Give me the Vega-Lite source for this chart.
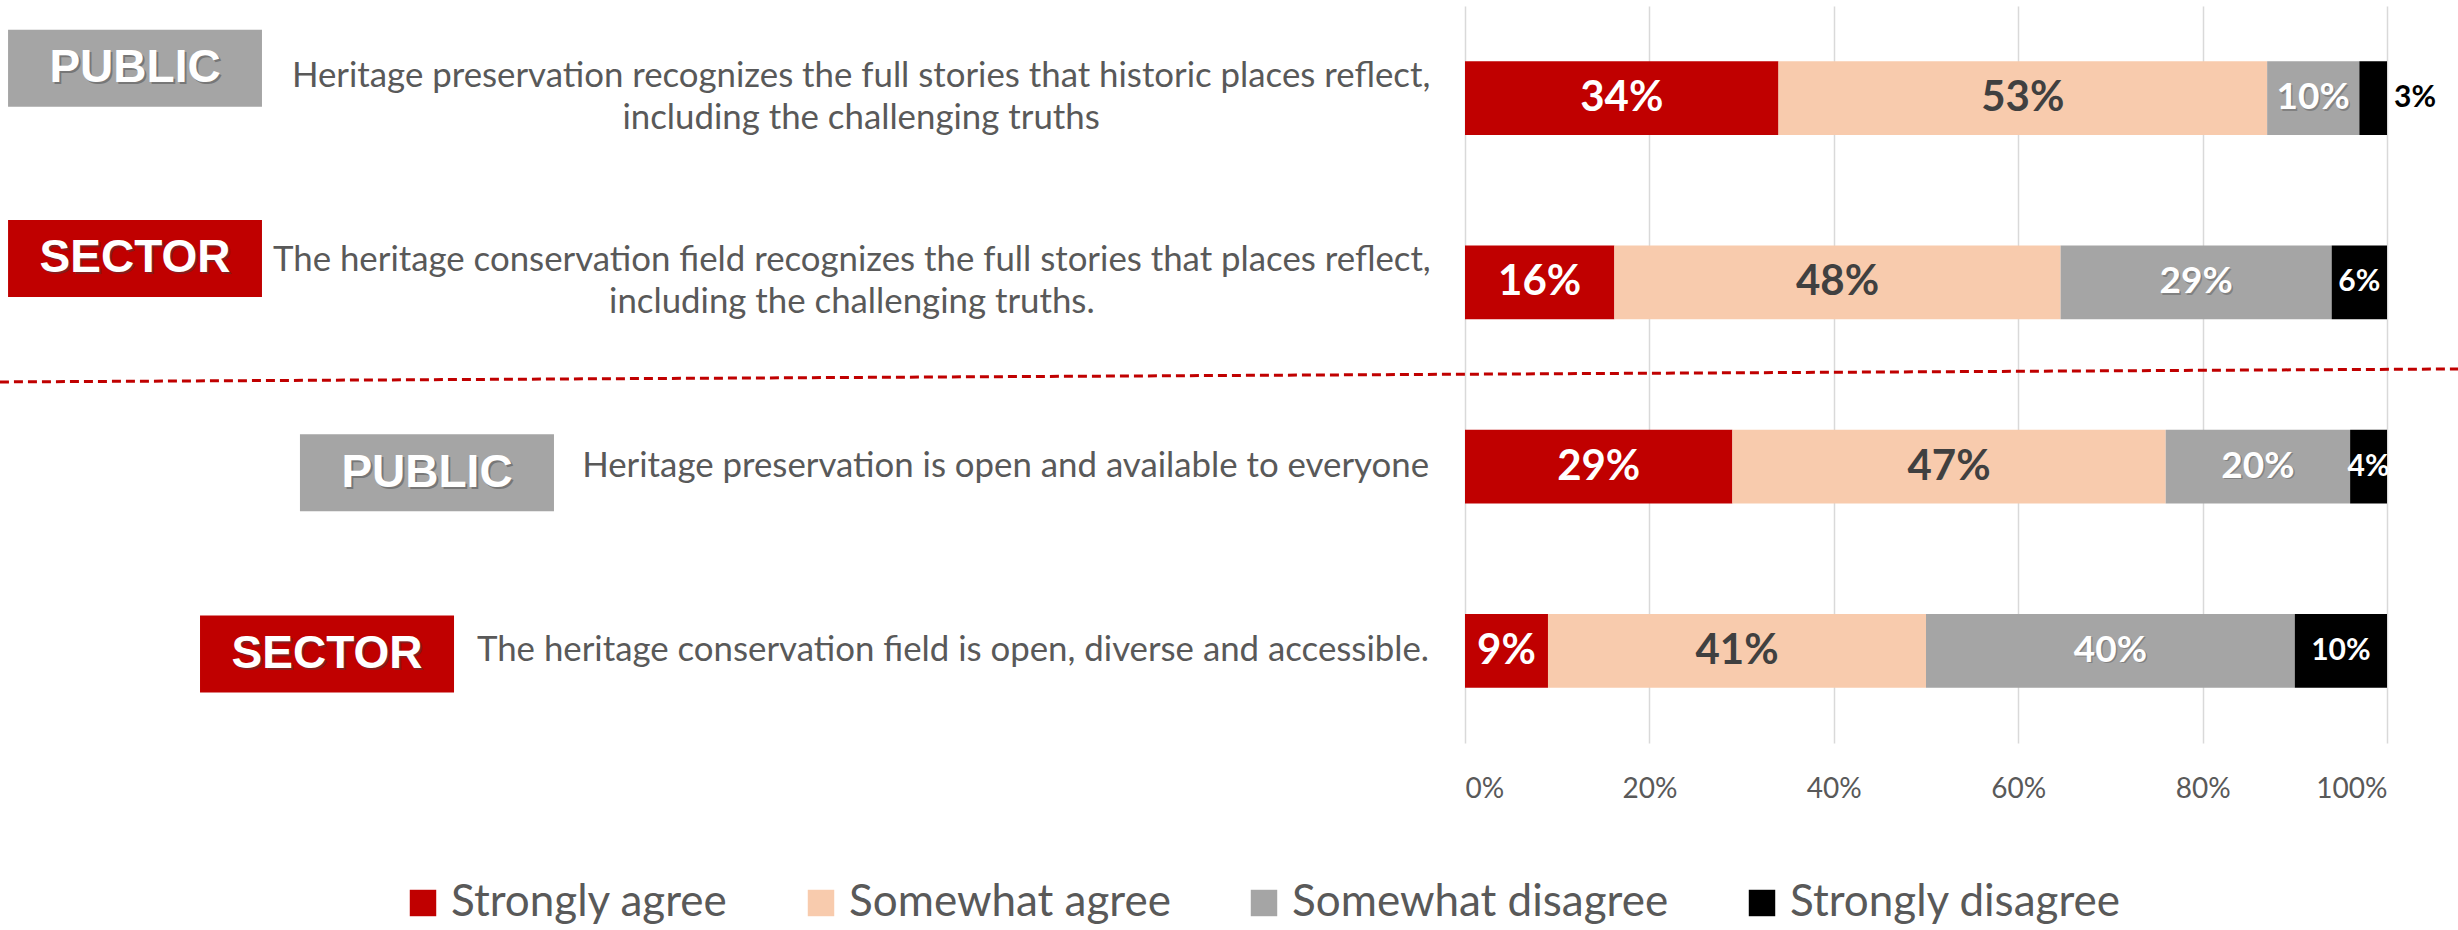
{
  "$schema": "https://vega.github.io/schema/vega-lite/v6.json",
  "width": 922,
  "height": 737,
  "autosize": {"type": "none"},
  "padding": {"left": 1465, "top": 6, "right": 71, "bottom": 187},
  "background": "white",
  "config": {"font": "Lato", "view": {"stroke": null}},
  "datasets": {
    "responses": [
      {"q": "q1", "response": "Strongly agree", "k": 1, "share": 0.34},
      {"q": "q1", "response": "Somewhat agree", "k": 2, "share": 0.53},
      {"q": "q1", "response": "Somewhat disagree", "k": 3, "share": 0.10},
      {"q": "q1", "response": "Strongly disagree", "k": 4, "share": 0.03},
      {"q": "q2", "response": "Strongly agree", "k": 1, "share": 0.162},
      {"q": "q2", "response": "Somewhat agree", "k": 2, "share": 0.484},
      {"q": "q2", "response": "Somewhat disagree", "k": 3, "share": 0.294},
      {"q": "q2", "response": "Strongly disagree", "k": 4, "share": 0.06},
      {"q": "q3", "response": "Strongly agree", "k": 1, "share": 0.29},
      {"q": "q3", "response": "Somewhat agree", "k": 2, "share": 0.47},
      {"q": "q3", "response": "Somewhat disagree", "k": 3, "share": 0.20},
      {"q": "q3", "response": "Strongly disagree", "k": 4, "share": 0.04},
      {"q": "q4", "response": "Strongly agree", "k": 1, "share": 0.09},
      {"q": "q4", "response": "Somewhat agree", "k": 2, "share": 0.41},
      {"q": "q4", "response": "Somewhat disagree", "k": 3, "share": 0.40},
      {"q": "q4", "response": "Strongly disagree", "k": 4, "share": 0.10}
    ],
    "questions": [
      {"q": "q1", "group": "PUBLIC", "text": "Heritage preservation recognizes the full stories that historic places reflect,\nincluding the challenging truths"},
      {"q": "q2", "group": "SECTOR", "text": "The heritage conservation field recognizes the full stories that places reflect,\nincluding the challenging truths."},
      {"q": "q3", "group": "PUBLIC", "text": "Heritage preservation is open and available to everyone"},
      {"q": "q4", "group": "SECTOR", "text": "The heritage conservation field is open, diverse and accessible."}
    ]
  },
  "layer": [
    {
      "data": {"name": "responses"},
      "mark": {"type": "bar"},
      "encoding": {
        "x": {"field": "share", "type": "quantitative", "stack": "zero",
          "scale": {"domain": [0, 1], "nice": false},
          "axis": {"values": [0, 0.2, 0.4, 0.6, 0.8, 1], "format": ".0%", "title": null, "domain": false, "ticks": false, "tickSize": 0, "labelPadding": 32, "labelFontSize": 28, "labelColor": "#595959", "labelFont": "Lato", "grid": true, "gridColor": "#D9D9D9", "gridWidth": 1.5}},
        "y": {"field": "q", "type": "nominal", "axis": null,
          "scale": {"domain": ["q1", "q2", "q3", "q4"], "paddingInner": 0.6, "paddingOuter": 0.3}},
        "order": {"field": "k"},
        "color": {"field": "response", "type": "nominal",
          "scale": {"domain": ["Strongly agree", "Somewhat agree", "Somewhat disagree", "Strongly disagree"], "range": ["#C00000", "#F8CBAD", "#A5A5A5", "#000000"]},
          "legend": {"orient": "none", "legendX": -1064, "legendY": 875, "direction": "horizontal", "title": null, "symbolType": "square", "symbolSize": 700, "symbolStrokeWidth": 0, "symbolOpacity": 1, "labelFont": "Lato", "labelFontSize": 44, "labelColor": "#595959", "labelLimit": 0, "columnPadding": 71, "labelOffset": 6, "padding": 0}}
      }
    },
    {
      "data": {"name": "responses"},
      "transform": [{"filter": "!(datum.q === 'q1' && datum.k === 4)"}],
      "mark": {"type": "text", "fontWeight": "bold", "align": "center", "baseline": "middle", "dx": 1.5, "dy": 1.5, "color": "#404040"},
      "encoding": {
        "x": {"field": "share", "type": "quantitative", "stack": "zero", "bandPosition": 0.5, "scale": {"domain": [0, 1], "nice": false}},
        "y": {"field": "q", "type": "nominal", "axis": null, "scale": {"domain": ["q1", "q2", "q3", "q4"]}},
        "order": {"field": "k"},
        "detail": {"field": "response"},
        "text": {"field": "share", "type": "quantitative", "format": ".0%"},
        "opacity": {"condition": {"test": "datum.k === 3", "value": 0.35}, "value": 0},
        "size": {"condition": [{"test": "datum.k === 4", "value": 30}, {"test": "datum.k === 3", "value": 37}], "value": 42}
      }
    },
    {
      "data": {"name": "responses"},
      "transform": [{"filter": "!(datum.q === 'q1' && datum.k === 4)"}],
      "mark": {"type": "text", "fontWeight": "bold", "align": "center", "baseline": "middle"},
      "encoding": {
        "x": {"field": "share", "type": "quantitative", "stack": "zero", "bandPosition": 0.5, "scale": {"domain": [0, 1], "nice": false}},
        "y": {"field": "q", "type": "nominal", "axis": null, "scale": {"domain": ["q1", "q2", "q3", "q4"]}},
        "order": {"field": "k"},
        "detail": {"field": "response"},
        "text": {"field": "share", "type": "quantitative", "format": ".0%"},
        "color": {"condition": {"test": "datum.k === 2", "value": "#404040"}, "value": "#FFFFFF"},
        "size": {"condition": [{"test": "datum.k === 4", "value": 30}, {"test": "datum.k === 3", "value": 37}], "value": 42}
      }
    },
    {
      "data": {"name": "responses"},
      "transform": [{"filter": "datum.q === 'q1' && datum.k === 4"}],
      "mark": {"type": "text", "fontWeight": "bold", "align": "left", "baseline": "middle", "dx": 7, "fontSize": 30, "color": "#000000"},
      "encoding": {
        "x": {"datum": 1, "type": "quantitative", "scale": {"domain": [0, 1], "nice": false}},
        "y": {"field": "q", "type": "nominal", "axis": null, "scale": {"domain": ["q1", "q2", "q3", "q4"]}},
        "text": {"field": "share", "type": "quantitative", "format": ".0%"}
      }
    },
    {
      "data": {"name": "questions"},
      "transform": [{"filter": "datum.q === 'q3'"}],
      "mark": {"type": "rule", "color": "#C00000", "strokeWidth": 3, "strokeDash": [9, 5]},
      "encoding": {
        "x": {"datum": -1.589, "type": "quantitative", "scale": {"domain": [0, 1], "nice": false}},
        "x2": {"datum": 1.077},
        "y": {"field": "q", "type": "nominal", "bandPosition": -0.649, "axis": null, "scale": {"domain": ["q1", "q2", "q3", "q4"]}},
        "y2": {"field": "q", "bandPosition": -0.825}
      }
    },
    {
      "data": {"name": "questions"},
      "transform": [{"filter": "datum.q === 'q1'"}],
      "mark": {"type": "text", "align": "center", "baseline": "middle", "lineBreak": "\n", "lineHeight": 42, "fontSize": 34.8, "color": "#595959", "yOffset": -21},
      "encoding": {
        "x": {"datum": -0.655, "type": "quantitative", "scale": {"domain": [0, 1], "nice": false}},
        "y": {"field": "q", "type": "nominal", "axis": null, "scale": {"domain": ["q1", "q2", "q3", "q4"]}},
        "text": {"field": "text"}
      }
    },
    {
      "data": {"name": "questions"},
      "transform": [{"filter": "datum.q === 'q2'"}],
      "mark": {"type": "text", "align": "center", "baseline": "middle", "lineBreak": "\n", "lineHeight": 42, "fontSize": 34.8, "color": "#595959", "yOffset": -21},
      "encoding": {
        "x": {"datum": -0.665, "type": "quantitative", "scale": {"domain": [0, 1], "nice": false}},
        "y": {"field": "q", "type": "nominal", "axis": null, "scale": {"domain": ["q1", "q2", "q3", "q4"]}},
        "text": {"field": "text"}
      }
    },
    {
      "data": {"name": "questions"},
      "transform": [{"filter": "datum.q === 'q3' || datum.q === 'q4'"}],
      "mark": {"type": "text", "align": "right", "baseline": "middle", "fontSize": 34.8, "color": "#595959"},
      "encoding": {
        "x": {"datum": -0.039, "type": "quantitative", "scale": {"domain": [0, 1], "nice": false}},
        "y": {"field": "q", "type": "nominal", "axis": null, "scale": {"domain": ["q1", "q2", "q3", "q4"]}},
        "text": {"field": "text"}
      }
    },
    {
      "data": {"name": "questions"},
      "transform": [{"filter": "datum.q === 'q1'"}],
      "encoding": {
        "y": {"field": "q", "type": "nominal", "axis": null, "scale": {"domain": ["q1", "q2", "q3", "q4"]}}
      },
      "layer": [
        {"mark": {"type": "bar", "height": 77, "yOffset": -30, "color": "#A5A5A5"},
          "encoding": {"x": {"datum": -1.5802, "type": "quantitative", "scale": {"domain": [0, 1], "nice": false}}, "x2": {"datum": -1.3048}}},
        {"mark": {"type": "text", "font": "Liberation Sans", "fontWeight": "bold", "fontSize": 46, "color": "#404040", "opacity": 0.45, "align": "center", "baseline": "middle", "yOffset": -28, "dx": 2},
          "encoding": {"x": {"datum": -1.4425, "type": "quantitative", "scale": {"domain": [0, 1], "nice": false}}, "text": {"field": "group"}}},
        {"mark": {"type": "text", "font": "Liberation Sans", "fontWeight": "bold", "fontSize": 46, "color": "#FFFFFF", "align": "center", "baseline": "middle", "yOffset": -30},
          "encoding": {"x": {"datum": -1.4425, "type": "quantitative", "scale": {"domain": [0, 1], "nice": false}}, "text": {"field": "group"}}}
      ]
    },
    {
      "data": {"name": "questions"},
      "transform": [{"filter": "datum.q === 'q2'"}],
      "encoding": {
        "y": {"field": "q", "type": "nominal", "axis": null, "scale": {"domain": ["q1", "q2", "q3", "q4"]}}
      },
      "layer": [
        {"mark": {"type": "bar", "height": 77, "yOffset": -24, "color": "#C00000"},
          "encoding": {"x": {"datum": -1.5802, "type": "quantitative", "scale": {"domain": [0, 1], "nice": false}}, "x2": {"datum": -1.3048}}},
        {"mark": {"type": "text", "font": "Liberation Sans", "fontWeight": "bold", "fontSize": 46, "color": "#404040", "opacity": 0.45, "align": "center", "baseline": "middle", "yOffset": -22, "dx": 2},
          "encoding": {"x": {"datum": -1.4425, "type": "quantitative", "scale": {"domain": [0, 1], "nice": false}}, "text": {"field": "group"}}},
        {"mark": {"type": "text", "font": "Liberation Sans", "fontWeight": "bold", "fontSize": 46, "color": "#FFFFFF", "align": "center", "baseline": "middle", "yOffset": -24},
          "encoding": {"x": {"datum": -1.4425, "type": "quantitative", "scale": {"domain": [0, 1], "nice": false}}, "text": {"field": "group"}}}
      ]
    },
    {
      "data": {"name": "questions"},
      "transform": [{"filter": "datum.q === 'q3'"}],
      "encoding": {
        "y": {"field": "q", "type": "nominal", "axis": null, "scale": {"domain": ["q1", "q2", "q3", "q4"]}}
      },
      "layer": [
        {"mark": {"type": "bar", "height": 77, "yOffset": 6, "color": "#A5A5A5"},
          "encoding": {"x": {"datum": -1.2636, "type": "quantitative", "scale": {"domain": [0, 1], "nice": false}}, "x2": {"datum": -0.9881}}},
        {"mark": {"type": "text", "font": "Liberation Sans", "fontWeight": "bold", "fontSize": 46, "color": "#404040", "opacity": 0.45, "align": "center", "baseline": "middle", "yOffset": 8, "dx": 2},
          "encoding": {"x": {"datum": -1.1258, "type": "quantitative", "scale": {"domain": [0, 1], "nice": false}}, "text": {"field": "group"}}},
        {"mark": {"type": "text", "font": "Liberation Sans", "fontWeight": "bold", "fontSize": 46, "color": "#FFFFFF", "align": "center", "baseline": "middle", "yOffset": 6},
          "encoding": {"x": {"datum": -1.1258, "type": "quantitative", "scale": {"domain": [0, 1], "nice": false}}, "text": {"field": "group"}}}
      ]
    },
    {
      "data": {"name": "questions"},
      "transform": [{"filter": "datum.q === 'q4'"}],
      "encoding": {
        "y": {"field": "q", "type": "nominal", "axis": null, "scale": {"domain": ["q1", "q2", "q3", "q4"]}}
      },
      "layer": [
        {"mark": {"type": "bar", "height": 77, "yOffset": 3, "color": "#C00000"},
          "encoding": {"x": {"datum": -1.372, "type": "quantitative", "scale": {"domain": [0, 1], "nice": false}}, "x2": {"datum": -1.0965}}},
        {"mark": {"type": "text", "font": "Liberation Sans", "fontWeight": "bold", "fontSize": 46, "color": "#404040", "opacity": 0.45, "align": "center", "baseline": "middle", "yOffset": 5, "dx": 2},
          "encoding": {"x": {"datum": -1.2343, "type": "quantitative", "scale": {"domain": [0, 1], "nice": false}}, "text": {"field": "group"}}},
        {"mark": {"type": "text", "font": "Liberation Sans", "fontWeight": "bold", "fontSize": 46, "color": "#FFFFFF", "align": "center", "baseline": "middle", "yOffset": 3},
          "encoding": {"x": {"datum": -1.2343, "type": "quantitative", "scale": {"domain": [0, 1], "nice": false}}, "text": {"field": "group"}}}
      ]
    }
  ]
}
